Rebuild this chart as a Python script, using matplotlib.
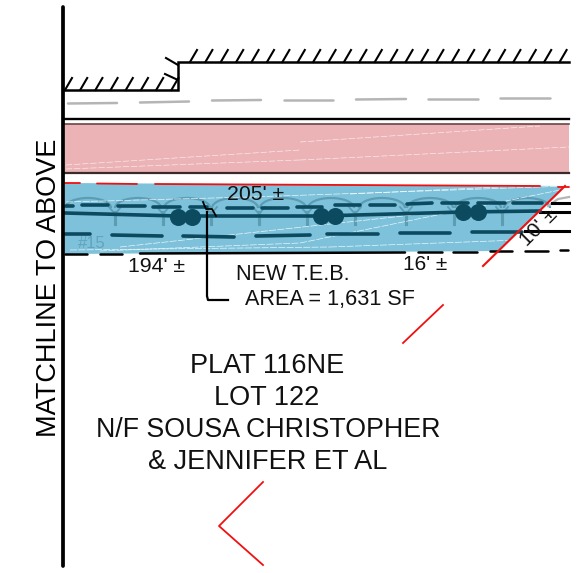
import numpy as np
import matplotlib
matplotlib.use("Agg")
import matplotlib.pyplot as plt
from matplotlib.patches import Polygon, Rectangle, Arc

# sketch geometry in pixels
pink_box = [65, 124, 504, 48]
blue_area = [(65, 183), (565, 186), (498, 251), (65, 254)]

kerb_x = [63, 178, 178, 569]
kerb_y = [90, 90, 62, 62]
low_hatch_x = np.arange(65, 175, 15.2)
high_hatch_x = np.arange(190, 565, 15.4)

grey_dashes = [(68, 117, 103.5, 103), (140, 189, 102.5, 101.5), (212, 261, 100.5, 100),
               (284, 333, 100, 100), (356, 406, 99.5, 99), (428, 478, 98.5, 98.5),
               (500, 550, 98, 98)]

upper_dashes = [(66, 73, 206, 206), (82, 108, 205, 205), (118, 145, 206, 206), (153, 180, 207, 207),
                (190, 207, 207, 207), (227, 253, 208, 208), (262, 288, 208, 208),
                (297, 322, 207, 207), (335, 360, 205, 205), (370, 395, 205, 205), (407, 432, 204, 203),
                (442, 468, 203, 203), (478, 505, 203, 203), (513, 542, 203, 203)]
lower_dashes = [(65, 90, 234, 234), (112, 162, 235, 236), (183, 234, 236, 237),
                (256, 310, 236, 235), (327, 378, 234, 234), (400, 450, 232.5, 232.5),
                (472, 522, 231.5, 231.5)]
bottom_dashes = [(65, 87, 253.5, 253.5), (100, 122, 253.5, 253.5), (140, 405, 253.5, 252.5),
                 (418, 442, 252, 252), (453, 477, 252, 252), (490, 512, 251, 251),
                 (525, 548, 250.5, 250.5), (560, 568, 250, 250)]
red_top = [(65, 80, 183, 183), (97, 137, 183.5, 184), (155, 540, 184, 186), (558, 569, 186.5, 186.5)]

main_x = [65, 178, 321, 463, 540]
main_y = [213, 216, 216, 212, 211]
bead_x = [178, 192, 321, 335, 463, 478]
bead_y = [217, 217, 216, 216, 212, 212]

arch_x = [88, 138, 187, 235, 283, 331, 382, 430, 478, 527]
stem_x = [115, 163, 211, 259, 307, 355, 406, 454, 502]

white_streaks = [(66, 250, 202, 197), (250, 569, 197, 186), (100, 300, 251, 243),
                 (300, 560, 243, 190), (70, 330, 250, 247), (330, 520, 247, 240),
                 (120, 330, 247, 224), (330, 440, 224, 212), (350, 520, 194, 186)]
pink_streaks = [(66, 300, 165, 150), (300, 540, 142, 126), (66, 300, 169, 160),
                (300, 569, 160, 147)]

labels = [("205' ±", 256, 195, 15.3, 0), ("194' ±", 157, 267, 15.3, 0), ("16' ±", 425, 265, 15, 0),
          ("10' ±", 539, 227, 15, 45), ("NEW T.E.B.", 293, 274, 15.6, 0),
          ("AREA = 1,631 SF", 329.5, 299, 15.6, 0), ("PLAT 116NE", 267, 366, 19.5, 0),
          ("LOT 122", 267, 398, 19.5, 0), ("N/F SOUSA CHRISTOPHER", 268, 430, 19.3, 0),
          ("& JENNIFER ET AL", 268, 462, 19.5, 0)]

plt.rcParams['font.family'] = ['Liberation Sans', 'DejaVu Sans']
fig = plt.figure(figsize=(5.81, 5.73), dpi=100)
ax = fig.add_axes([0, 0, 1, 1])
ax.set_xlim(0, 581)
ax.set_ylim(573, 0)
ax.axis('off')

black = '#000000'
teal = '#0c4a60'
arch_col = '#5c9db4'
grey = '#b5b5b5'
red = '#f01010'


def segs(items, **kw):
    for x0, x1, y0, y1 in items:
        ax.plot([x0, x1], [y0, y1], solid_capstyle='round', **kw)


# pink strip
ax.add_patch(Rectangle(pink_box[:2], pink_box[2], pink_box[3], fc='#ecb3b6', ec='none', zorder=1))
segs(pink_streaks, color='white', lw=0.45, alpha=0.8, ls=(0, (10, 3)), zorder=2)
ax.plot([63, 569], [118.5, 118.5], color=black, lw=1.7, zorder=3)
ax.plot([63, 569], [124, 124], color='#6b4445', lw=1.2, zorder=3)
ax.plot([63, 569], [172.5, 172.5], color='#3a2a2a', lw=1.6, zorder=3)

# kerb with hatching
ax.plot(kerb_x, kerb_y, color=black, lw=1.8, zorder=3, solid_joinstyle='miter')
for x in low_hatch_x:
    ax.plot([x, x + 7], [90, 78], color=black, lw=1.5)
for x in high_hatch_x:
    ax.plot([x, x + 7], [62, 50], color=black, lw=1.5)
ax.plot([166, 178], [58, 65], color=black, lw=1.5)
ax.plot([165, 178], [74, 80], color=black, lw=1.5)
segs(grey_dashes, color=grey, lw=1.8)

# blue area and what sits on it
ax.add_patch(Polygon(blue_area, closed=True, fc='#7dc1da', ec='none', zorder=1))
segs(red_top, color=red, lw=1.3, zorder=3)
for cx in arch_x:
    ax.add_patch(Arc((cx, 208), 46, 20, theta1=180, theta2=360, color=arch_col, lw=1.6, zorder=2))
for sx in stem_x:
    ax.plot([sx, sx], [212, 224], color=arch_col, lw=2.2, zorder=2)
    ax.plot([sx - 6, sx, sx + 6], [207, 214, 207], color=arch_col, lw=1.3, zorder=2)
segs(white_streaks, color='white', lw=0.5, alpha=0.85, ls=(0, (10, 2)), zorder=2)
ax.text(92, 243, "#15", color=arch_col, fontsize=12, ha='center', va='center', zorder=2, alpha=0.8)

ax.plot(main_x, main_y, color=teal, lw=2.6, zorder=4)
segs(upper_dashes, color=teal, lw=2.6, zorder=4)
segs(lower_dashes, color=teal, lw=2.6, zorder=4)
ax.scatter(bead_x, bead_y, s=150, color=teal, zorder=5, linewidths=0)

# existing lines past the diagonal, bottom edge
ax.plot([552, 569], [203, 203], color=black, lw=2.2, zorder=3)
ax.plot([540, 569], [212, 212], color=black, lw=2.2, zorder=3)
ax.plot([525, 569], [231, 231], color=black, lw=2.2, zorder=3)
ax.plot([548, 558, 569], [206, 199, 197], color=grey, lw=1.6, zorder=2)
segs(bottom_dashes, color=black, lw=1.8, zorder=4)

# red linework
ax.plot([565, 483], [186, 266], color=red, lw=1.5, zorder=5)
ax.plot([443, 403], [305, 343], color=red, lw=1.3, zorder=5)
ax.plot([263, 219, 263], [482, 526, 565], color=red, lw=1.3, zorder=5)

# leader
ax.plot([228, 208, 207, 207], [300, 300, 296, 212], color=black, lw=1.6, zorder=6)
ax.plot([203, 206, 212, 216], [202, 209, 209, 216], color=black, lw=1.3, zorder=6)

# matchline
ax.plot([63, 63], [7, 566], color=black, lw=2.7, zorder=7, solid_capstyle='round')
ax.text(49, 288, "MATCHLINE TO ABOVE", rotation=90, fontsize=19.5, ha='center', va='center', zorder=7)

for txt, x, y, size, rot in labels:
    ax.text(x, y, txt, fontsize=size, rotation=rot, ha='center', va='center', color='#111111', zorder=8)

fig.savefig("out.png", dpi=100)
